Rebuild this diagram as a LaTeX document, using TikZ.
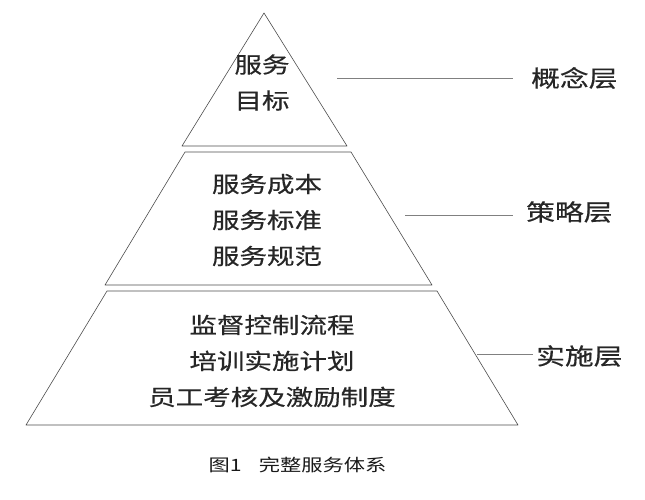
\documentclass[tikz,border=0pt]{standalone}
\usepackage{fontspec}
\newfontfamily\hei[FakeStretch=1.25, FakeBold=0.5]{Noto Sans CJK SC}
\newfontfamily\heilight[FakeStretch=1.25]{Noto Sans CJK SC}
\usetikzlibrary{positioning}

\begin{document}
\begin{tikzpicture}[x=1pt,y=-1pt,
    layer/.style={draw=black!70, line width=0.6pt, line join=round},
    body/.style={align=center, text=black!85, inner sep=0pt,
      font=\hei\fontsize{22pt}{36pt}\selectfont},
    tag/.style={text=black!85, inner sep=0pt, font=\hei\fontsize{23pt}{28pt}\selectfont},
    tick/.style={draw=black!50, line width=0.6pt}]
    \useasboundingbox (0,0) rectangle (645,500);

    \draw[layer] (264,13) -- (347,146) -- (182,146) -- cycle;
    \draw[layer] (185,152) -- (351,152) -- (432,285) -- (105,285) -- cycle;
    \draw[layer] (107,291) -- (437,291) -- (518,425) -- (26,425) -- cycle;

    \node[body] (goal) at (262,82.5) {服务\\目标};
    \node[body] (policy) at (267,220) {服务成本\\服务标准\\服务规范};
    \node[body] (action) at (272,361) {监督控制流程\\培训实施计划\\员工考核及激励制度};

    \node[tag, anchor=west] (concept) at (531,78) {概念层};
    \node[tag, anchor=west] (strategy) at (526,212) {策略层};
    \node[tag, anchor=west] (practice) at (536,356) {实施层};

    \coordinate (c1) at (337,78);
    \coordinate (c2) at (405,215);
    \coordinate (c3) at (477,354);
    \draw[tick] (c1) -- ([xshift=-18pt]concept.west);
    \draw[tick] (c2) -- ([xshift=-13pt, yshift=-3pt]strategy.west);
    \draw[tick] (c3) -- ([xshift=-3pt, yshift=2pt]practice.west);

    \node[font=\heilight\fontsize{17pt}{20pt}\selectfont, text=black!90, inner sep=0pt]
      (caption) at (297.5,465) {图1\quad 完整服务体系};
\end{tikzpicture}
\end{document}
